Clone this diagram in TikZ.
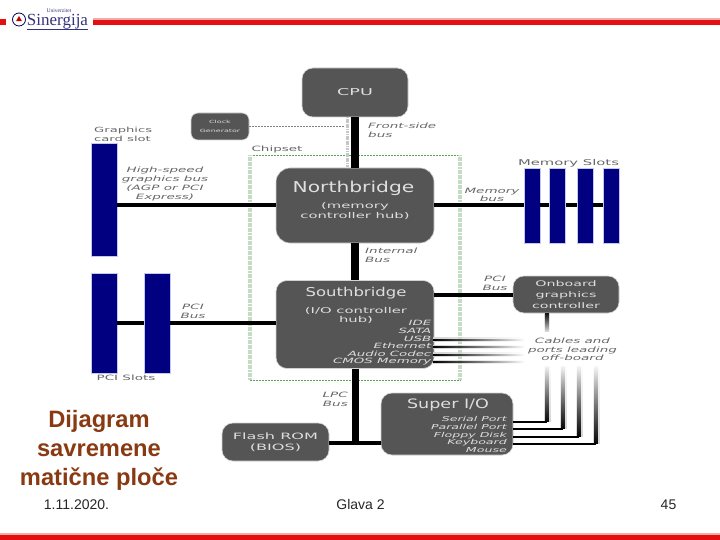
\documentclass[tikz,border=0pt]{standalone}
\usepackage{fontspec}
\setmainfont[FakeStretch=1.35]{DejaVu Sans}
\newfontfamily\widefam[FakeStretch=1.85]{DejaVu Sans}
\newfontfamily\libsans{Liberation Sans}
\newfontfamily\libserif{Liberation Serif}
\usetikzlibrary{fadings,shapes.geometric}
\definecolor{boxgray}{HTML}{555555}
\definecolor{boxtext}{HTML}{DEDEDE}
\definecolor{lbl}{HTML}{666666}
\definecolor{slotblue}{HTML}{000080}
\definecolor{halo}{HTML}{C4C8EC}
\definecolor{chipgreen}{HTML}{C4DCC4}
\definecolor{barred}{HTML}{E3100F}
\definecolor{titlebrown}{HTML}{8A3A12}
\newcommand{\fs}[2]{\fontsize{#1}{#2}\selectfont}
\tikzfading[name=fadeup,bottom color=transparent!0,middle color=transparent!0,top color=transparent!100]
\tikzfading[name=faderight,left color=transparent!0,middle color=transparent!0,right color=transparent!100]
\tikzset{
  x=1pt,y=-1pt,
  chip/.style={fill=boxgray,rounded corners=11pt,inner sep=0pt,align=center,text=boxtext,draw=gray!35,line width=0.6pt},
  slot/.style={fill=slotblue,inner sep=0pt,draw=halo,line width=0.9pt},
  bus/.style={line width=4pt,draw=black},
  busv/.style={line width=7.5pt,draw=black},
  thin bus/.style={line width=2pt,draw=black},
  busglow/.style={line width=6pt,draw=gray!35},
  lab/.style={inner sep=0pt,align=center,text=lbl,font=\widefam\fs{7.3}{8.7}},
  ilab/.style={lab,font=\widefam\fs{7.3}{8.7}\itshape},
  rightlist/.style={inner sep=0pt,align=right,text=boxtext},
  foot/.style={inner sep=0pt,text=black!85,font=\libsans\fs{14}{16}},
  titletext/.style={inner sep=0pt,align=center,text=titlebrown,font=\libsans\bfseries\fs{23.7}{29}},
  redbar/.style={fill=barred,draw=none},
  chipline/.style={draw=gray!70!green,line width=0.6pt,dash pattern=on 2pt off 1pt},
  chipside/.style={draw=chipgreen,line width=4pt,dash pattern=on 1.3pt off 0.35pt},
}
\begin{document}
\begin{tikzpicture}
\useasboundingbox (0,0) rectangle (720,540);
% header and footer bars
\fill[redbar] (0,19.5) rectangle (6,25);
\fill[barred!35] (93,18.5) rectangle (720,20);
\fill[redbar] (93,20) rectangle (720,25.5);
\fill[barred!35] (0,533) rectangle (720,535);
\fill[redbar] (0,535) rectangle (720,540);
% logo
\node[circle,draw=blue!35!black,line width=0.8pt,minimum size=13pt,inner sep=0pt] (logoc) at (19,19.5) {};
\node[regular polygon,regular polygon sides=3,fill=red!75!black,inner sep=0pt,minimum size=7pt] (logot) at (19,19.5) {};
\node[inner sep=0pt,text=blue!35!black!80,font=\libserif\fs{17}{18}] (logoa) at (57.5,22) {Sinergija};
\node[inner sep=0pt,text=blue!35!black!80,font=\libserif\fs{5.5}{6}] (logob) at (59,10.5) {Univerzitet};
\draw[blue!35!black!80,line width=0.5pt] (logoa.south west) -- (logoa.south east);
% chipset
\coordinate (chTL) at (249.5,155);
\coordinate (chTR) at (460,155);
\coordinate (chBL) at (249.5,380);
\coordinate (chBR) at (460,380);
\draw[chipline] (chTL) -- (chTR);
\draw[chipline] (chBL) -- (chBR);
\draw[chipside] (chTL) -- (chBL);
\draw[chipside] (chTR) -- (chBR);
% nodes
\node[chip,minimum width=106pt,minimum height=49pt,font=\widefam\fs{9.5}{15}] (cpu) at (355,92.5) {CPU};
\node[chip,minimum width=58pt,minimum height=27pt,rounded corners=7pt,font=\widefam\fs{4.3}{8.5}] (clock) at (220,126.5) {Clock\\Generator};
\node[chip,minimum width=158pt,minimum height=75pt,rounded corners=14pt] (north) at (355,205.5) {};
\node[inner sep=0pt,text=boxtext,font=\fs{15}{17}] (northt) at (353.5,188) {Northbridge};
\node[inner sep=0pt,align=center,text=boxtext,font=\widefam\fs{8}{9.5}] (northd) at (355,211) {(memory\\controller hub)};
\node[chip,minimum width=158pt,minimum height=88pt] (south) at (355,324.5) {};
\node[inner sep=0pt,text=boxtext,font=\fs{12.2}{14}] (southt) at (356,293.5) {Southbridge};
\node[inner sep=0pt,align=center,text=boxtext,font=\widefam\fs{8}{9.5}] (southd) at (356,315.5) {(I/O controller\\hub)};
\node[rightlist,anchor=east,font=\widefam\fs{7.2}{7.6}\itshape] (southl) at (431.5,343) {IDE\\SATA\\USB\\Ethernet\\Audio Codec\\CMOS Memory};
\node[chip,minimum width=106pt,minimum height=37pt,font=\widefam\fs{7.7}{11}] (onboard) at (566,294.5) {Onboard\\graphics\\controller};
\node[chip,minimum width=107pt,minimum height=38pt,font=\widefam\fs{8.7}{11}] (flash) at (275.5,442) {Flash ROM\\(BIOS)};
\node[chip,minimum width=132pt,minimum height=62pt] (super) at (447,424) {};
\node[inner sep=0pt,text=boxtext,font=\fs{13}{15}] (supert) at (448,405) {Super I/O};
\node[rightlist,anchor=east,font=\widefam\fs{6.8}{7.9}\itshape] (superl) at (507,434.5) {Serial Port\\Parallel Port\\Floppy Disk\\Keyboard\\Mouse};
% slots
\foreach \n/\cx/\cy/\w/\h in {g/104/199.5/26/113,p1/104/323/26/100,p2/157/323/26/100,m1/532/205.5/16/75,m2/557.5/205.5/16/75,m3/585/205.5/16/75,m4/611/205.5/16/75}{
  \node[slot,minimum width=\w pt,minimum height=\h pt] (\n) at (\cx,\cy) {};
}
% buses
\draw[gray!45,line width=3pt,dash pattern=on 1.2pt off 0.5pt] (347.5,117) -- (347.5,168);
\draw[busv] (cpu.south) -- (north.north);
\draw[busv] (north.south) -- (south.north);
\draw[bus] (north.west) -- (north.west -| g.east);
\draw[bus] (north.east) -- (m1.west);
\draw[bus] (m1.east) -- (m2.west);
\draw[bus] (m2.east) -- (m3.west);
\draw[bus] (m3.east) -- (m4.west);
\draw[bus] (south.east |- onboard.west) -- (onboard.west);
\draw[bus] (south.west |- p2.east) -- (p2.east);
\draw[bus] (p1.east) -- (p2.west);
\coordinate (lpcA) at (355.5,368.5);
\coordinate (lpcB) at (355.5,443.3);
\coordinate (fl) at (flash.east |- lpcB);
\coordinate (su) at (super.west |- lpcB);
\draw[busv] (lpcA) -- (lpcB);
\draw[bus] (fl) -- (su);
\draw[gray,line width=0.7pt,dash pattern=on 2pt off 1pt] (clock.east) -- (345,126.5);
% port lines
\foreach \y in {339.5,347,354.5,362}{
  \coordinate (pa) at (433,\y); \coordinate (pb) at (524,\y);
  \draw[busglow,line width=4.5pt,path fading=faderight] (pa) -- (pb);
  \draw[thin bus,path fading=faderight] (pa) -- (pb);
}
\coordinate (ob) at (547,332);
\draw[busglow,path fading=south] (onboard.south -| ob) -- (ob);
\draw[bus,path fading=south] (onboard.south -| ob) -- (ob);
\foreach \x/\y in {547/421.7,563/429,579/436.7,596/444.3}{
  \coordinate (sa) at (513,\y); \coordinate (sc) at (\x,\y); \coordinate (sd) at (\x,366);
  \draw[line width=7pt,draw=gray!35,path fading=fadeup] (sc) -- (sd);
  \draw[line width=4pt,draw=black,path fading=fadeup] (sc) -- (sd);
  \draw[line width=2pt,draw=black] (sa) -- (sc);
}
% labels
\node[lab,align=left,anchor=west,font=\widefam\fs{7.1}{9}] (lg) at (94,134) {Graphics\\card slot};
\node[lab] (lc) at (277,149) {Chipset};
\node[ilab] (lhs) at (165,184) {High-speed\\graphics bus\\(AGP or PCI\\Express)};
\node[ilab,align=left,anchor=west] (lfsb) at (368,130) {Front-side\\bus};
\node[ilab,align=left,anchor=west] (lib) at (365,255.5) {Internal\\Bus};
\node[ilab] (lmb) at (492,195) {Memory\\bus};
\node[lab,font=\widefam\fs{8}{12}] (lms) at (568.5,163.5) {Memory Slots};
\node[ilab] (lpb) at (495,283) {PCI\\Bus};
\node[ilab] (lpcib) at (193,311.5) {PCI\\Bus};
\node[lab] (lps) at (126,378) {PCI Slots};
\node[ilab,align=right,anchor=east] (llpc) at (348,399.5) {LPC\\Bus};
\node[ilab] (lcab) at (572.5,349.5) {Cables and\\ports leading\\off-board};
% title and footer
\node[titletext] (title) at (99,450) {Dijagram\\savremene\\matične ploče};
\node[foot] (fa) at (76.5,504.5) {1.11.2020.};
\node[foot] (fb) at (360.5,504.5) {Glava 2};
\node[foot] (fc) at (668.5,504.5) {45};
\end{tikzpicture}
\end{document}
